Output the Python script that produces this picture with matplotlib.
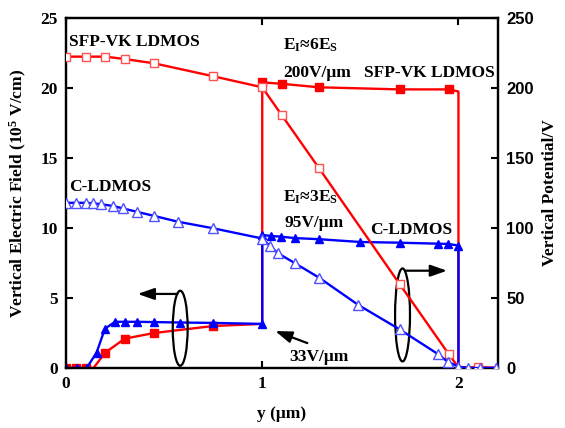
import matplotlib
matplotlib.use("Agg")
import matplotlib.pyplot as plt
from matplotlib.patches import Ellipse

plt.rcParams['font.family'] = ['Liberation Serif', 'DejaVu Serif']
plt.rcParams['font.weight'] = 'bold'
plt.rcParams['mathtext.fontset'] = 'custom'
plt.rcParams['mathtext.rm'] = 'Liberation Serif:bold'
plt.rcParams['mathtext.it'] = 'Liberation Serif:bold'
plt.rcParams['mathtext.default'] = 'rm'

# ---- data ----
# SFP-VK LDMOS vertical electric field (left axis, 1e5 V/cm)
x_sfp_E = [0.0, 0.05, 0.1, 0.14, 0.2, 0.3, 0.45, 0.75, 1.0, 1.0, 1.1, 1.29, 1.7, 1.95, 2.0, 2.0, 2.05, 2.1, 2.2]
E_sfp = [0, 0, 0, 0, 1.1, 2.1, 2.5, 3.0, 3.15, 20.4, 20.3, 20.05, 19.9, 19.9, 19.75, 0, 0, 0, 0]
mk_sfp_E = [0, 1, 2, 4, 5, 6, 7, 9, 10, 11, 12, 13]

# C-LDMOS vertical electric field (left axis)
x_c_E = [0.0, 0.055, 0.105, 0.156, 0.198, 0.25, 0.3, 0.36, 0.45, 0.58, 0.75, 1.0, 1.0, 1.047, 1.098,
         1.165, 1.29, 1.5, 1.7, 1.895, 1.945, 2.0, 2.0, 2.05, 2.1, 2.2]
E_c = [0, 0, 0, 1.1, 2.8, 3.3, 3.3, 3.3, 3.28, 3.25, 3.22, 3.15, 9.5, 9.43, 9.38,
       9.28, 9.2, 9.0, 8.95, 8.88, 8.86, 8.75, 0, 0, 0, 0]
mk_c_E = [0, 1, 2, 3, 4, 5, 6, 7, 8, 9, 10, 11, 12, 13, 14, 15, 16, 17, 18, 19, 20, 21, 22]

# SFP-VK LDMOS vertical potential (right axis, V)
x_sfp_V = [0.0, 0.1, 0.2, 0.3, 0.45, 0.75, 1.0, 1.1, 1.29, 1.7, 1.95, 2.0, 2.1, 2.2]
V_sfp = [222.4, 222.4, 222.4, 220.7, 217.6, 208.4, 200.5, 180.5, 142.6, 60, 10, 0.5, 0.5, 0]
mk_sfp_V = [0, 1, 2, 3, 4, 5, 6, 7, 8, 9, 10, 12]

# C-LDMOS vertical potential (right axis)
x_c_V = [0.0, 0.05, 0.1, 0.14, 0.18, 0.24, 0.29, 0.36, 0.45, 0.57, 0.75, 1.0, 1.04, 1.08,
         1.165, 1.29, 1.49, 1.7, 1.895, 1.945, 2.0, 2.05, 2.11, 2.19]
V_c = [118, 118, 118, 117.6, 117, 115.7, 114, 111.6, 108.6, 104.5, 99.8, 92.5, 87, 82,
       75, 64.5, 45, 27.6, 10, 4.5, 1, 0, 0, 0]

RED = '#ff0000'
BLUE = '#0000ff'

fig = plt.figure(figsize=(5.65, 4.28), dpi=100)
ax = fig.add_axes([66/565, 60/428, (497.7-66)/565, (368-18)/428])
ax2 = ax.twinx()

ax.plot(x_sfp_E, E_sfp, color=RED, lw=1.7, marker='s', ms=5.5, mfc=RED, mec=RED,
        markevery=mk_sfp_E, zorder=3)
ax.plot(x_c_E, E_c, color=BLUE, lw=1.7, marker='^', ms=6, mfc=BLUE, mec=BLUE,
        markevery=mk_c_E, zorder=4)
ax2.plot(x_sfp_V, V_sfp, color=RED, lw=1.7, marker='s', ms=6, mfc='white', mec='#ff5050',
         mew=1.0, markevery=mk_sfp_V, zorder=3)
ax2.plot(x_c_V, V_c, color=BLUE, lw=1.7, marker='^', ms=7, mfc='white', mec='#5050ff',
         mew=1.0, zorder=3)

ax.set_xlim(0, 2.2)
ax.set_ylim(0, 25)
ax2.set_ylim(0, 250)
ax.set_xticks([0, 1, 2])
ax.set_yticks([0, 5, 10, 15, 20, 25])
ax2.set_yticks([0, 50, 100, 150, 200, 250])

FS = 12.5
for a in (ax, ax2):
    for s in a.spines.values():
        s.set_linewidth(1.6)
ax.tick_params(direction='in', length=5, width=1.5, top=True, labelsize=FS, pad=6)
ax2.tick_params(direction='in', length=5, width=1.5, labelsize=12, pad=6)
for lab in ax.get_xticklabels() + ax.get_yticklabels():
    lab.set_fontweight('bold')
for lab in ax2.get_yticklabels():
    lab.set_fontweight('bold')
    lab.set_family('Liberation Sans')

ax.set_xlabel('y (μm)', fontsize=FS, fontweight='bold', labelpad=10)
ax.set_ylabel('Vertical Electric Field (10$^{5}$ V/cm)', fontsize=FS, fontweight='bold', labelpad=8)
ax2.set_ylabel('Vertical Potential/V', fontsize=FS, fontweight='bold', labelpad=6)

tk = dict(fontsize=FS, fontweight='bold', va='center', ha='left', zorder=6)
ax.text(0.015, 23.3, 'SFP-VK LDMOS', **tk)
ax.text(0.015, 12.95, 'C-LDMOS', **tk)
ax.text(1.105, 23.05, r'E$_{I}$≈6E$_{S}$', **tk)
ax.text(1.105, 21.1, '200V/μm', **tk)
ax.text(1.52, 21.05, 'SFP-VK LDMOS', **tk)
ax.text(1.105, 12.2, r'E$_{I}$≈3E$_{S}$', **tk)
ax.text(1.115, 10.35, '95V/μm', **tk)
ax.text(1.55, 9.85, 'C-LDMOS', **tk)
ax.text(1.14, 0.8, '33V/μm', **tk)

arr = dict(arrowstyle='-|>,head_length=1.0,head_width=0.35', color='black', lw=1.6)
ax.annotate('', xy=(1.053, 2.71), xytext=(1.243, 1.71), arrowprops=arr)
ax.add_patch(Ellipse((0.582, 2.84), 0.076, 5.36, fill=False, lw=1.6, ec='black', zorder=5))
ax.annotate('', xy=(0.351, 5.29), xytext=(0.582, 5.29), arrowprops=arr)
ax.add_patch(Ellipse((1.715, 3.79), 0.076, 6.64, fill=False, lw=1.6, ec='black', zorder=5))
ax.annotate('', xy=(1.956, 6.95), xytext=(1.715, 6.95), arrowprops=arr)

fig.savefig('out.png', dpi=100)
